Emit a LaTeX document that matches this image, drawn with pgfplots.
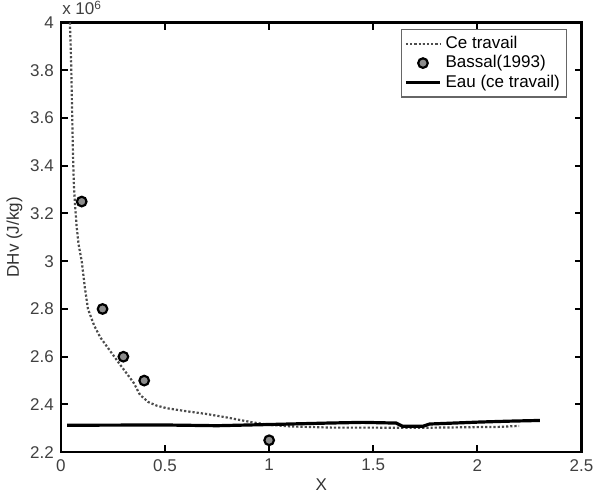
\documentclass[border=0pt]{standalone}
\usepackage{fontspec}
\setmainfont{Liberation Sans}
\usepackage{pgfplots}
\pgfplotsset{compat=1.18}
\begin{document}
\begin{tikzpicture}
\begin{axis}[
  scale only axis,
  width=260.5pt, height=215pt,
  xmin=0, xmax=2.5, ymin=2.2, ymax=4,
  xtick={0,0.5,...,2.5},
  ytick={2.2,2.4,...,4.01},
  xticklabels={0,0.5,1,1.5,2,2.5},
  yticklabels={2.2,2.4,2.6,2.8,3,3.2,3.4,3.6,3.8,4},
  tick align=inside,
  xtick pos=both, ytick pos=both,
  major tick length=3.5pt,
  every tick/.style={black, line width=1pt},
  axis line style={line width=1.2pt},
  every tick label/.append style={font=\fontsize{8.5}{10}\selectfont, text=black!75},
  xlabel={X}, ylabel={DHv (J/kg)},
  label style={font=\fontsize{8.5}{10}\selectfont, text=black!80},
  xlabel style={yshift=3pt},
  ylabel style={yshift=-3pt},
  legend style={at={(0.973,0.986)}, anchor=north east, font=\fontsize{8.5}{10}\selectfont,
    draw=black!60, line width=0.6pt, row sep=-2pt, inner sep=1.5pt},
  legend cell align=left,
  clip=true,
]
\addplot[densely dotted, line width=1.1pt, black!70] coordinates {
(0.043,4.0) (0.047,3.9) (0.05,3.8) (0.054,3.62) (0.058,3.45) (0.062,3.33) (0.067,3.25)
(0.075,3.15) (0.085,3.07) (0.10,3.0) (0.115,2.89) (0.13,2.80) (0.16,2.73) (0.19,2.68)
(0.24,2.62) (0.29,2.56) (0.35,2.49) (0.38,2.44) (0.42,2.41) (0.46,2.395) (0.51,2.384)
(0.6,2.372) (0.7,2.36) (0.8,2.345) (0.92,2.325) (1.0,2.315) (1.1,2.308) (1.3,2.303)
(1.5,2.303) (1.7,2.302) (1.9,2.304) (2.1,2.306) (2.2,2.31)
};
\addlegendentry{Ce travail}
\addplot[only marks, mark=*, mark size=2.4pt, mark options={fill=black!45, draw=black, line width=1.1pt}] coordinates {
(0.1,3.25) (0.2,2.8) (0.3,2.6) (0.4,2.5) (1.0,2.25)
};
\addlegendentry{Bassal(1993)}
\addplot[black, line width=1.6pt] coordinates {
(0.03,2.313) (0.5,2.314) (0.75,2.311) (1.0,2.316) (1.28,2.322) (1.45,2.325) (1.61,2.322)
(1.64,2.309) (1.74,2.309) (1.77,2.318) (2.0,2.326) (2.15,2.33) (2.3,2.333)
};
\addlegendentry{Eau (ce travail)}
\end{axis}
\node[anchor=south west, font=\fontsize{8.5}{10}\selectfont, text=black!75, inner sep=0.5pt] at (0pt,218pt) {x 10\textsuperscript{6}};
\end{tikzpicture}
\end{document}
